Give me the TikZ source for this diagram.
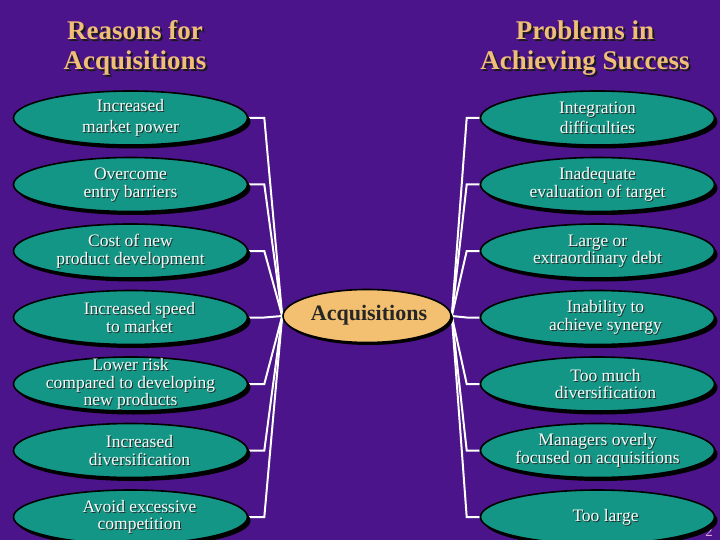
\documentclass[tikz,border=0pt]{standalone}
\usepackage{fontspec}
\setmainfont{Liberation Serif}
\usetikzlibrary{shapes.geometric,shadows,calc}
\pgfdeclarelayer{bottom}
\pgfdeclarelayer{lines}
\pgfsetlayers{bottom,lines,main}
\definecolor{bgpurple}{RGB}{76,20,138}
\definecolor{ovalteal}{RGB}{20,150,134}
\definecolor{ovalorange}{RGB}{242,192,112}
\definecolor{titletan}{RGB}{240,190,120}
\definecolor{ovaltext}{RGB}{240,255,250}
\definecolor{pagepink}{RGB}{225,165,225}
\tikzset{
  oval/.style={ellipse, draw=black, line width=1.6pt, fill=ovalteal,
    minimum width=234pt, minimum height=54pt, inner sep=0pt,
    drop shadow={shadow xshift=3pt, shadow yshift=-3.5pt, fill=black, opacity=1}},
  hub/.style={ellipse, draw=black, line width=1.6pt, fill=ovalorange,
    minimum width=168pt, minimum height=53pt, inner sep=0pt,
    drop shadow={shadow xshift=2pt, shadow yshift=-2.5pt, fill=black, opacity=1}},
  txt/.style={align=center, text=ovaltext, inner sep=0pt,
    font=\fontsize{17.5}{17.5}\selectfont},
  txtshadow/.style={txt, text=black!85},
  ttl/.style={align=center, text=titletan, inner sep=0pt,
    font=\fontsize{27}{30}\selectfont\bfseries},
  ttlshadow/.style={ttl, text=black!90},
  conn/.style={draw=white, line width=2pt, line join=miter},
}
\newcommand\ovaltxt[4]{%
  \node[txtshadow] (#1s) at ([shift={(#3+1,1)}]#2) {#4};
  \node[txt] (#1) at ([shift={(#3,0)}]#2) {#4};}
\begin{document}
\begin{tikzpicture}[x=1pt,y=-1pt]
\begin{pgfonlayer}{bottom}
\fill[bgpurple] (0,0) rectangle (720,540);
\end{pgfonlayer}
\useasboundingbox (0,0) rectangle (720,540);

% titles
\node[ttlshadow] (T1s) at (137,50) {Reasons for\\Acquisitions};
\node[ttl] (T1) at (135,48) {Reasons for\\Acquisitions};
\node[ttlshadow] (T2s) at (587,50) {Problems in\\Achieving Success};
\node[ttl] (T2) at (585,48) {Problems in\\Achieving Success};

% page number (partly hidden)
\node[text=pagepink, font=\fontsize{15}{15}\selectfont, inner sep=0pt, anchor=east] (pg) at (713,532) {7-2};

% hub
\node[hub] (A) at (367,316) {};
\node[font=\fontsize{22}{24}\selectfont\bfseries, text=black!85, inner sep=0pt] (At) at (369,315) {Acquisitions};

% ovals
\foreach \i/\y in {1/118,2/184.5,3/251,4/317.5,5/384,6/450.5,7/517}{
  \node[oval] (L\i) at (130.5,\y) {};
  \node[oval] (R\i) at (597.5,\y) {};
}

% connectors
\begin{pgfonlayer}{lines}
\foreach \i in {1,...,7}{
  \draw[conn] (L\i.east) -- ++(16,0) -- (A.west);
  \draw[conn] (R\i.west) -- ++(-13,0) -- (A.east);
}
\end{pgfonlayer}

% texts
\ovaltxt{l1}{L1}{0}{Increased\\[3pt]market power}
\ovaltxt{l2}{L2}{0}{Overcome\\entry barriers}
\ovaltxt{l3}{L3}{0}{Cost of new\\product development}
\ovaltxt{l4}{L4}{9}{Increased speed\\to market}
\ovaltxt{l5}{L5}{0}{Lower risk\\compared to developing\\new products}
\ovaltxt{l6}{L6}{9}{Increased\\diversification}
\ovaltxt{l7}{L7}{9}{Avoid excessive\\competition}

\ovaltxt{r1}{R1}{0}{Integration\\[3pt]difficulties}
\ovaltxt{r2}{R2}{0}{Inadequate\\evaluation of target}
\ovaltxt{r3}{R3}{0}{Large or\\extraordinary debt}
\ovaltxt{r4}{R4}{8}{Inability to\\achieve synergy}
\ovaltxt{r5}{R5}{8}{Too much\\diversification}
\ovaltxt{r6}{R6}{0}{Managers overly\\focused on acquisitions}
\ovaltxt{r7}{R7}{8}{Too large}
\end{tikzpicture}
\end{document}
